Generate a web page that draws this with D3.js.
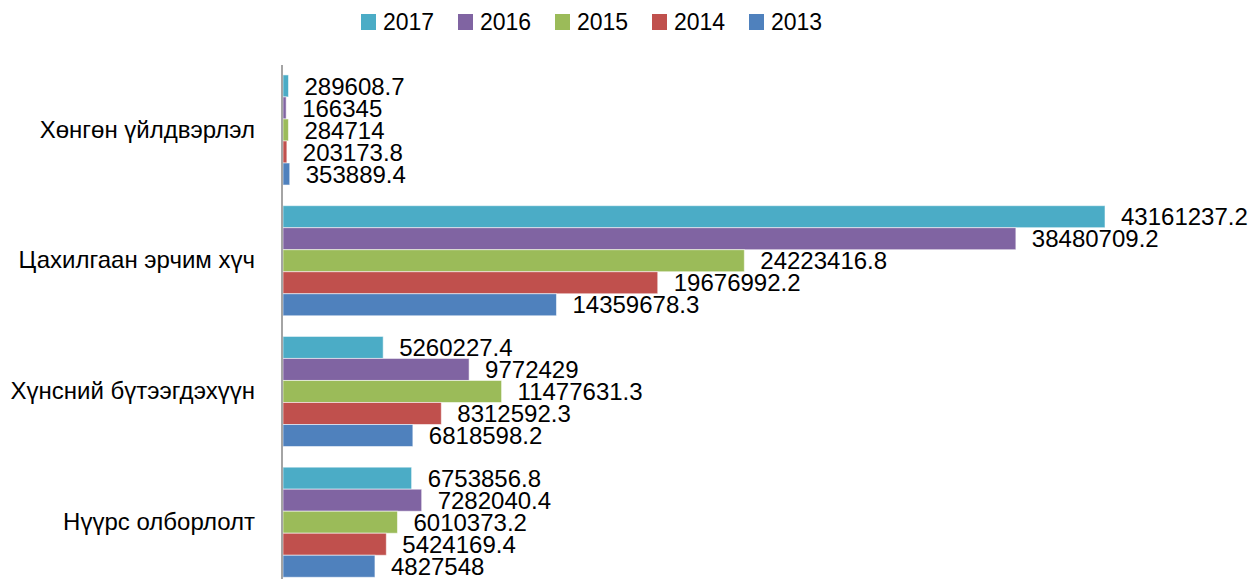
<!DOCTYPE html>
<html><head><meta charset="utf-8">
<script src="https://cdn.jsdelivr.net/npm/d3@7"></script>
<style>html,body{margin:0;padding:0;background:#fff;}svg{display:block;}</style>
</head><body>
<script>
const categories = ["Хөнгөн үйлдвэрлэл", "Цахилгаан эрчим хүч", "Хүнсний бүтээгдэхүүн", "Нүүрс олборлолт"];
const seriesNames = ["2017", "2016", "2015", "2014", "2013"];
const seriesColors = ["#4BACC6", "#8064A2", "#9BBB59", "#C0504D", "#4F81BD"];
const v2017 = [289608.7, 43161237.2, 5260227.4, 6753856.8];
const v2016 = [166345, 38480709.2, 9772429, 7282040.4];
const v2015 = [284714, 24223416.8, 11477631.3, 6010373.2];
const v2014 = [203173.8, 19676992.2, 8312592.3, 5424169.4];
const v2013 = [353889.4, 14359678.3, 6818598.2, 4827548];
const seriesValues = [v2017, v2016, v2015, v2014, v2013];

const W = 1253, H = 579;
const font = "'Liberation Sans', Arial, sans-serif";
const fs = 24;
const svg = d3.select("body").append("svg").attr("width", W).attr("height", H);

const x0 = 283;
const x = d3.scaleLinear().domain([0, 43161237.2]).range([x0, 1105]);
const y = d3.scaleBand().domain(categories).range([64.6, 587.6]).paddingInner(0.158).paddingOuter(0.079);
const yi = d3.scaleBand().domain(seriesNames).range([0, y.bandwidth()]);

// legend
const leg = svg.append("g");
seriesNames.forEach((s, i) => {
  const lx = 361 + i * 97;
  leg.append("rect").attr("x", lx).attr("y", 14).attr("width", 15).attr("height", 16).attr("fill", seriesColors[i]);
  leg.append("text").attr("x", lx + 22).attr("y", 30).attr("font-family", font).attr("font-size", fs - 1).attr("fill", "#000").text(s);
});

// bars
const groups = svg.selectAll("g.cat").data(categories).enter().append("g").attr("class", "cat")
  .attr("transform", d => `translate(0,${y(d)})`);
seriesNames.forEach((s, si) => {
  groups.append("rect")
    .attr("x", x(0))
    .attr("y", yi(s))
    .attr("width", (d, ci) => x(seriesValues[si][ci]) - x(0))
    .attr("height", yi.bandwidth())
    .attr("fill", seriesColors[si])
    .attr("stroke", "rgba(255,255,255,0.55)")
    .attr("stroke-width", 1);
  groups.append("text")
    .attr("x", (d, ci) => x(seriesValues[si][ci]) + 16)
    .attr("y", yi(s) + yi.bandwidth() / 2)
    .attr("dy", "0.36em")
    .attr("font-family", font).attr("font-size", fs).attr("fill", "#000")
    .text((d, ci) => seriesValues[si][ci]);
});

// axis
const axis = d3.axisLeft(y).tickSize(0).tickPadding(27);
const ag = svg.append("g").attr("transform", `translate(${x0 - 1},0)`).call(axis);
ag.select(".domain").attr("stroke", "#868686").attr("stroke-width", 1.5).attr("d", `M0,65V${H}`);
ag.selectAll("text").attr("font-family", font).attr("font-size", fs).attr("fill", "#000");
</script>
</body></html>
